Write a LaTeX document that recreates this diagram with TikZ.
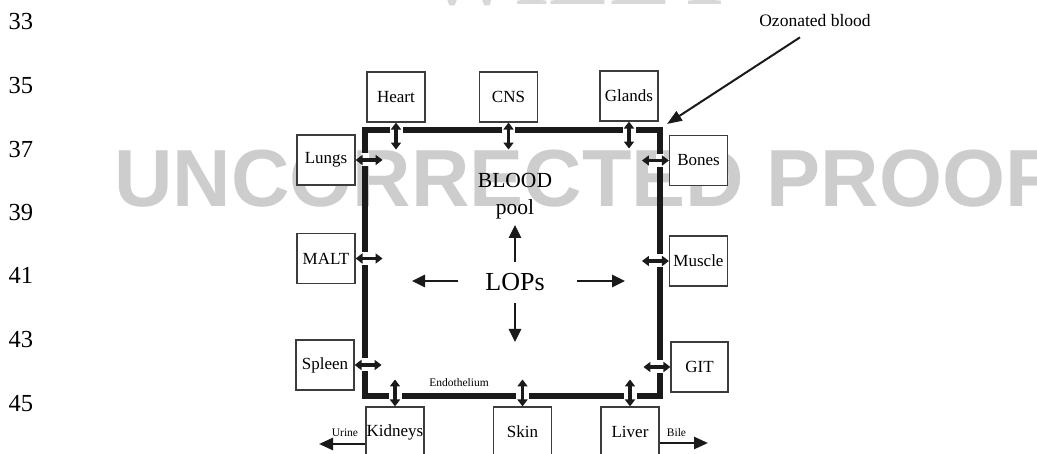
\documentclass[tikz,border=0pt]{standalone}
\usepackage{fontspec}
\setmainfont{Liberation Serif}
\newfontfamily\wmfont{Liberation Sans}
\usetikzlibrary{arrows.meta,calc}
\definecolor{wmgray}{HTML}{CDCDCD}
\definecolor{wmlight}{HTML}{D8D8D8}
\definecolor{ink}{HTML}{1A1A1A}
\begin{document}
\begin{tikzpicture}[x=1pt,y=-1pt,
  organ/.style={draw=ink!85, line width=1.1pt, fill=white, minimum width=58pt,
    minimum height=50pt, inner sep=0pt, font=\fontsize{17}{17}\selectfont},
  dbl/.style={ink, line width=3.1pt,
    {Triangle[length=7pt,width=10pt]}-{Triangle[length=7pt,width=10pt]}},
  big/.style={ink, line width=2.6pt, -{Triangle[length=13pt,width=12pt]}},
  outarrow/.style={ink, line width=2.5pt, -{Triangle[length=14pt,width=12pt]}},
  ozarrow/.style={ink, line width=2pt, -{Triangle[length=15pt,width=11pt]}},
  small/.style={font=\fontsize{11.5}{12}\selectfont, inner sep=0pt, anchor=base},
  linenum/.style={font=\fontsize{24.5}{25}\selectfont, inner sep=0pt, anchor=base},
  wm/.style={text=wmgray, inner sep=0pt}
]
\useasboundingbox (0,0) rectangle (1037,454);
\begin{scope}
\clip (0,0) rectangle (1037,454);
% watermarks
\node[wm, text=wmlight, anchor=base, font=\fontsize{91}{91}\selectfont\bfseries] (wiley) at (580,5) {WILEY};
\node[wm, anchor=base west, font=\wmfont\fontsize{81}{81}\selectfont\bfseries] (proof) at (114,207) {UNCORRECTED PROOF};

% line numbers
\node[linenum] (n33) at (21,30) {33};
\node[linenum] (n35) at (21,94) {35};
\node[linenum] (n37) at (21,158) {37};
\node[linenum] (n39) at (21,221) {39};
\node[linenum] (n41) at (21,284) {41};
\node[linenum] (n43) at (21,348) {43};
\node[linenum] (n45) at (21,412) {45};

% blood pool border
\coordinate (tl) at (365,130);
\coordinate (br) at (660,396);
\draw[ink, line width=5.5pt, line join=miter] (tl) rectangle (br);

% organs
\node[organ] (heart)   at (396,97)    {Heart};
\node[organ] (cns)     at (508.5,97)  {CNS};
\node[organ] (glands)  at (629,96)    {Glands};
\node[organ] (lungs)   at (326,160)   {Lungs};
\node[organ] (malt)    at (326,258.5) {MALT};
\node[organ] (spleen)  at (325,365)   {Spleen};
\node[organ] (bones)   at (698.5,160.5) {Bones};
\node[organ] (muscle)  at (698.5,261) {Muscle};
\node[organ, minimum width=57pt] (git) at (699.5,367) {GIT};
\node[organ] (kidneys) at (395,432)   {Kidneys};
\node[organ] (skin)    at (522.5,432) {Skin};
\node[organ] (liver)   at (630,432)   {Liver};

% gaps in the endothelium
\foreach \o in {heart,cns,glands}{
  \fill[white] ($(\o.south |- tl)+(-6.5,-4)$) rectangle ++(13,8);
  \draw[dbl] (\o.south) -- ++(0,27);
}
\foreach \o in {kidneys,skin,liver}{
  \fill[white] ($(\o.north |- br)+(-6.5,-4)$) rectangle ++(13,8);
  \draw[dbl] (\o.north) -- ++(0,-27);
}
\foreach \o in {lungs,malt,spleen}{
  \fill[white] ($(\o.east -| tl)+(-4,-6.5)$) rectangle ++(8,13);
  \draw[dbl] (\o.east) -- ++(27,0);
}
\foreach \o in {bones,muscle,git}{
  \fill[white] ($(\o.west -| br)+(-4,-6.5)$) rectangle ++(8,13);
  \draw[dbl] (\o.west) -- ++(-27,0);
}

% centre
\node[font=\fontsize{21.5}{22}\selectfont] (bloodlbl) at (515,180.5) {BLOOD};
\node[font=\fontsize{21.5}{22}\selectfont] (pool) at (515,209) {pool};
\node[font=\fontsize{26}{26}\selectfont] (lops) at (515,282) {LOPs};
\draw[big] ($(lops)+(0,-20)$) -- ($(lops)+(0,-57)$);
\draw[big] ($(lops)+(0,21)$) -- ($(lops)+(0,60)$);
\draw[big] ($(lops)+(-57,-1)$) -- ($(lops)+(-103,-1)$);
\draw[big] ($(lops)+(62,-1)$) -- ($(lops)+(110,-1)$);

% labels
\node[small] (endo) at (459,387) {Endothelium};
\node[small] (urinelbl) at (345,437) {Urine};
\node[small] (bilelbl) at (676.5,436) {Bile};
\coordinate (urine) at (319,444);
\coordinate (bile) at (708,443);
\draw[outarrow] (kidneys.west |- urine) -- (urine);
\draw[outarrow] (liver.east |- bile) -- (bile);

% ozonated blood
\node[anchor=base, inner sep=2pt, font=\fontsize{17.5}{18}\selectfont] (ozon) at (815,27) {Ozonated blood};
\coordinate (ozt) at (667,124);
\draw[ozarrow] ($(ozon.south)+(-15,8)$) -- (ozt);
\end{scope}
\end{tikzpicture}
\end{document}
